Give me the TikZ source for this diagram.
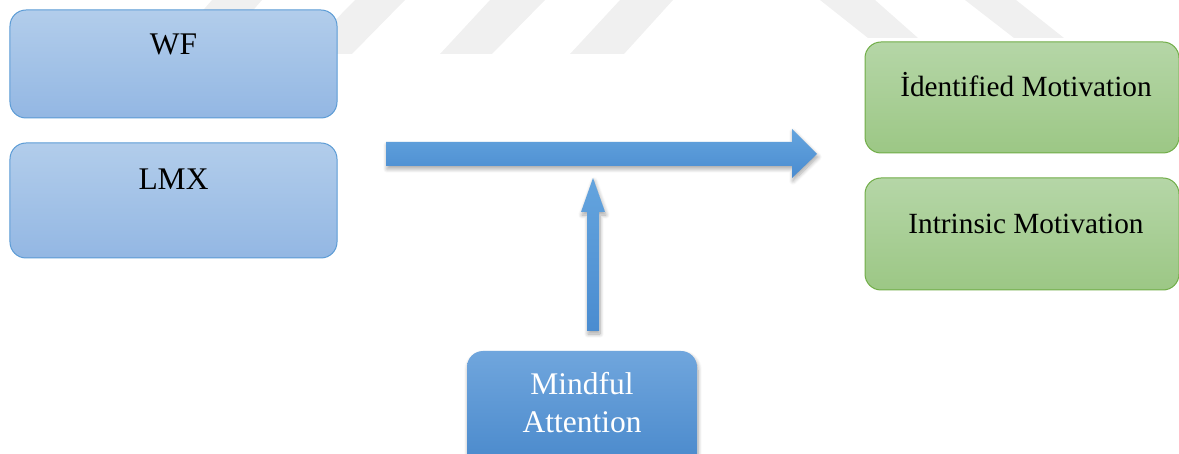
\documentclass[tikz,border=0pt]{standalone}
\usepackage{fontspec}
\setmainfont{Liberation Serif}
\usetikzlibrary{calc,shadows.blur}

\definecolor{wmark}{HTML}{F0F0F0}
\definecolor{bluetop}{HTML}{B2CDEB}
\definecolor{bluebot}{HTML}{93B7E3}
\definecolor{blueedge}{HTML}{5B9BD5}
\definecolor{greentop}{HTML}{B5D6A7}
\definecolor{greenbot}{HTML}{9CC785}
\definecolor{greenedge}{HTML}{70AD47}
\definecolor{arrowtop}{HTML}{64A4DE}
\definecolor{arrowbot}{HTML}{4A8CD0}
\definecolor{mindtop}{HTML}{70A6DD}
\definecolor{mindbot}{HTML}{4888CB}

\tikzset{
  softshadow/.style={blur shadow={shadow xshift=1bp, shadow yshift=-3bp,
      shadow blur radius=4bp, shadow blur steps=8, shadow opacity=35}},
  bluebox/.style={draw=blueedge, line width=1bp, rounded corners=16bp,
      top color=bluetop, bottom color=bluebot, inner sep=0pt,
      minimum width=327bp},
  greenbox/.style={draw=greenedge, line width=1bp, rounded corners=16bp,
      top color=greentop, bottom color=greenbot, inner sep=0pt,
      minimum width=314bp, minimum height=111bp},
  mindbox/.style={rounded corners=16bp, top color=mindtop, bottom color=mindbot,
      inner sep=0pt, minimum width=230bp, minimum height=120bp, softshadow},
  blockarrow/.style={top color=arrowtop, bottom color=arrowbot, softshadow},
  bigtext/.style={anchor=base, inner sep=0pt, font=\fontsize{31.5bp}{38bp}\selectfont},
  greentext/.style={anchor=base, inner sep=0pt, font=\fontsize{29.3bp}{35bp}\selectfont},
}

\begin{document}
\begin{tikzpicture}[x=1bp, y=-1bp]
\useasboundingbox (0,0) rectangle (1179,454);

% faint background stripes
\fill[wmark] (212,0) -- (262,0) -- (215,54) -- (165,54) -- cycle;
\fill[wmark] (355,0) -- (405,0) -- (352,54) -- (302,54) -- cycle;
\fill[wmark] (490,0) -- (545,0) -- (492,54) -- (440,54) -- cycle;
\fill[wmark] (620,0) -- (673,0) -- (624,54) -- (570,54) -- cycle;
\fill[wmark] (820,0) -- (875,0) -- (918,38) -- (868,38) -- cycle;
\fill[wmark] (965,0) -- (1016,0) -- (1064,38) -- (1014,38) -- cycle;

% left-hand boxes
\node[bluebox, minimum height=108bp] (wf) at (173.5,64) {};
\node[bigtext] (wftext) at (173.5,55) {WF};
\node[bluebox, minimum height=115bp] (lmx) at (173.5,200.5) {};
\node[bigtext] (lmxtext) at (173.5,190) {LMX};

% right-hand boxes
\node[greenbox] (idm) at (1022,97.5) {};
\node[greentext] (idmtext) at (1026,97) {İdentified Motivation};
\node[greenbox, minimum height=112bp] (inm) at (1022,234) {};
\node[greentext] (inmtext) at (1026,234) {Intrinsic Motivation};

% moderator box
\node[mindbox] (mind) at (582,411) {};
\node[bigtext, text=white] (mindtext1) at (582,395) {Mindful};
\node[bigtext, text=white] (mindtext2) at (582,433) {Attention};

% horizontal block arrow
\coordinate (hs) at (386,154);
\coordinate (he) at (817,154);
\path[blockarrow] ($(hs)+(0,-12)$) -- ($(he)+(-25,-12)$) -- ($(he)+(-25,-25)$)
  -- (he) -- ($(he)+(-25,24)$) -- ($(he)+(-25,12)$) -- ($(hs)+(0,12)$) -- cycle;

% vertical block arrow
\coordinate (vs) at (593,331);
\coordinate (ve) at (593,178);
\path[blockarrow] ($(vs)+(-6,0)$) -- ($(ve)+(-6,34)$) -- ($(ve)+(-12,34)$)
  -- (ve) -- ($(ve)+(12,34)$) -- ($(ve)+(6,34)$) -- ($(vs)+(6,0)$) -- cycle;
\end{tikzpicture}
\end{document}
